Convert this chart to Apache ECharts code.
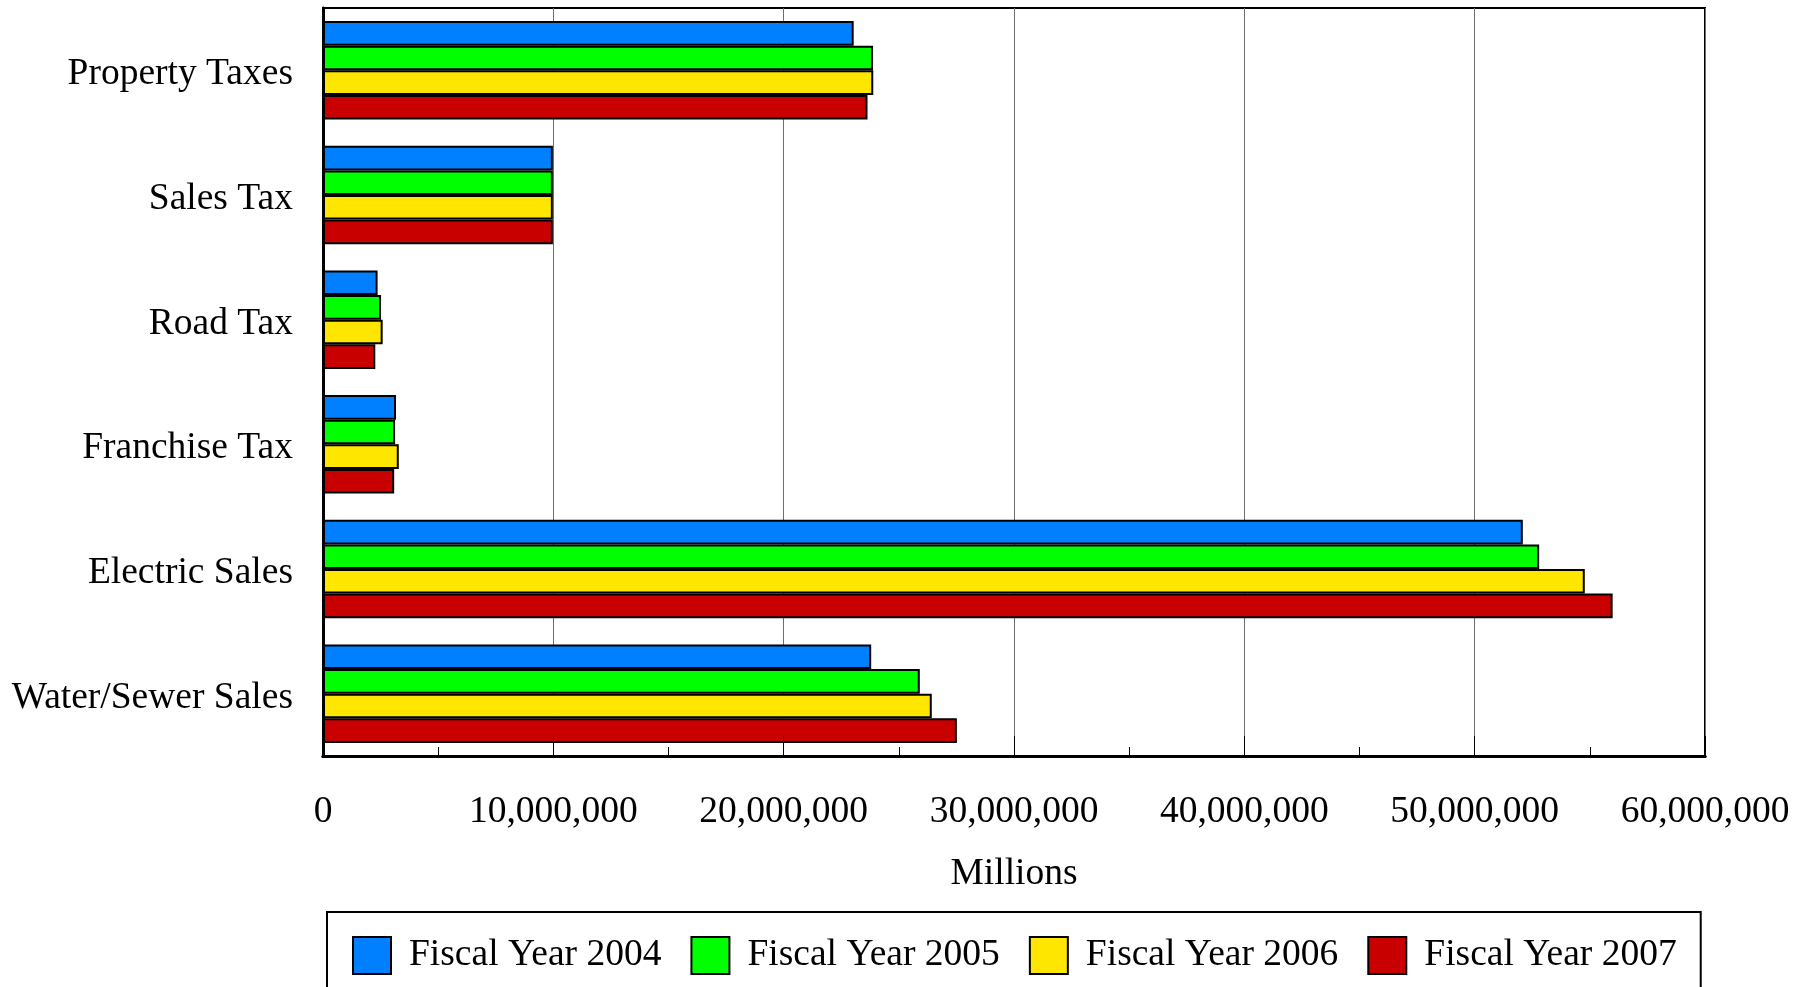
<!DOCTYPE html>
<html>
<head>
<meta charset="utf-8">
<script src="https://cdn.jsdelivr.net/npm/echarts@6/dist/echarts.min.js"></script>
<style>html,body{margin:0;padding:0;background:#fff}#c{width:1811px;height:987px}</style>
</head>
<body>
<div id="c"></div>
<script>
const categories = ['Property Taxes', 'Sales Tax', 'Road Tax', 'Franchise Tax', 'Electric Sales', 'Water/Sewer Sales'];
const seriesNames = ['Fiscal Year 2004', 'Fiscal Year 2005', 'Fiscal Year 2006', 'Fiscal Year 2007'];
const fy2004 = [23040000, 9980000, 2370000, 3170000, 52090000, 23800000];
const fy2005 = [23880000, 9980000, 2520000, 3130000, 52800000, 25910000];
const fy2006 = [23890000, 9980000, 2590000, 3290000, 54780000, 26430000];
const fy2007 = [23640000, 9980000, 2270000, 3090000, 55990000, 27520000];
const tickLabels = ['0', '10,000,000', '20,000,000', '30,000,000', '40,000,000', '50,000,000', '60,000,000'];
const colors = ['#0080ff', '#00ff00', '#ffe600', '#c80000'];
const seriesValues = [fy2004, fy2005, fy2006, fy2007];

const FONT = 'Liberation Serif';
const FS = 37.5;
const interval = 10000000;
const chart = echarts.init(document.getElementById('c'));
chart.setOption({
  animation: false,
  textStyle: { fontFamily: FONT, color: '#000' },
  grid: { left: 323, top: 8, right: 106, bottom: 231, show: true, borderColor: '#000', borderWidth: 2, backgroundColor: '#fff' },
  legend: {
    left: 327, top: 912,
    width: 1374,
    orient: 'horizontal',
    icon: 'rect',
    padding: [24, 24, 18, 25],
    itemWidth: 38, itemHeight: 37, itemGap: 29,
    borderColor: '#000', borderWidth: 2, backgroundColor: '#fff',
    textStyle: { fontFamily: FONT, fontSize: FS, color: '#000', padding: [0, 0, 0, 13] },
    data: seriesNames
  },
  xAxis: [{
    type: 'value', min: 0, max: 60000000, interval: interval,
    name: 'Millions', nameLocation: 'middle', nameGap: 99,
    nameTextStyle: { fontFamily: FONT, fontSize: FS, color: '#000' },
    axisLine: { show: true, lineStyle: { color: '#000', width: 3 } },
    axisTick: { show: false },
    splitLine: { show: true, lineStyle: { color: '#6e6e6e', width: 1 } },
    axisLabel: { fontFamily: FONT, fontSize: FS, color: '#000', margin: 37,
      formatter: v => tickLabels[Math.round(v / interval)] }
  }, {
    type: 'value', min: 0, max: 60000000, interval: interval, position: 'bottom', z: 10,
    axisLine: { show: true, lineStyle: { color: '#000', width: 3 } },
    axisTick: { show: true, inside: true, length: 20, lineStyle: { color: '#000', width: 1 } },
    minorTick: { show: true, splitNumber: 2, length: 9, lineStyle: { color: '#000', width: 1 } },
    axisLabel: { show: false }, splitLine: { show: false }
  }],
  yAxis: {
    type: 'category', data: categories, inverse: true,
    axisLine: { show: true, lineStyle: { color: '#000', width: 3 } },
    axisTick: { show: false },
    axisLabel: { color: '#000', margin: 30,
      formatter: v => '{a|' + v + '}',
      rich: { a: { fontFamily: FONT, fontSize: FS, color: '#000', padding: [8, 0, 0, 0] } } }
  },
  series: seriesNames.map((n, i) => ({
    name: n, type: 'bar', xAxisIndex: 0,
    data: seriesValues[i],
    barGap: '0%', barCategoryGap: '21%',
    itemStyle: { color: colors[i], borderColor: '#000', borderWidth: 2 }
  }))
});
</script>
</body>
</html>
